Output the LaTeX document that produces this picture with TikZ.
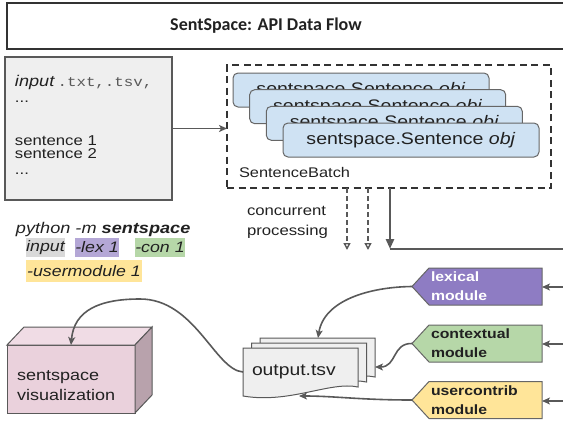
\documentclass[tikz,border=0pt]{standalone}
\usepackage{fontspec}
\setmainfont{Liberation Sans}[FakeStretch=1.17]
\newfontfamily\codefont{Liberation Mono}[FakeStretch=1.17]
\newfontfamily\titlefont{Carlito}
\usetikzlibrary{arrows.meta}
\newcommand\setfs[2]{\fontsize{#1}{#2}\selectfont}
\pgfdeclarelayer{bg}
\pgfsetlayers{bg,main}
\definecolor{cline}{HTML}{595959}
\definecolor{cdark}{HTML}{333333}
\definecolor{cborder}{HTML}{666666}
\definecolor{ctext}{HTML}{212121}
\definecolor{inbg}{HTML}{EFEFEF}
\definecolor{sblue}{HTML}{CFE2F3}
\definecolor{lexc}{HTML}{8E7CC3}
\definecolor{conc}{HTML}{B6D7A8}
\definecolor{usrc}{HTML}{FFE599}
\definecolor{lexhl}{HTML}{B4A7D6}
\definecolor{inhl}{HTML}{D9D9D9}
\definecolor{visf}{HTML}{EAD1DC}
\definecolor{vist}{HTML}{F0DCE5}
\definecolor{viss}{HTML}{B8A2AC}
\begin{document}
\begin{tikzpicture}[x=1pt,y=-1pt,
  every node/.style={inner sep=0pt, outer sep=0pt, text=ctext},
  conn/.style={draw=cline, line width=1.6pt, -{Stealth[length=8pt,width=7pt,inset=2pt]}},
  dasharr/.style={draw=cline, line width=1.4pt, dash pattern=on 5pt off 3pt, -{Triangle[open,length=7pt,width=7pt,fill=white]}},
  thickline/.style={draw=cline, line width=2.6pt},
  sbox/.style={draw=cborder, fill=sblue, rounded corners=5pt, minimum width=256pt, minimum height=34pt, line width=1pt, font=\setfs{16.7}{19}},
  modtext/.style={minimum width=113pt, minimum height=37pt, text width=109pt, inner xsep=2pt, align=left, font=\bfseries\setfs{13.5}{19}},
  modshape/.style={draw=cborder, line width=1pt},
  hl/.style={minimum height=19pt, font=\itshape\setfs{15.2}{18}},
  pics/docpage/.style={code={\draw[draw=cline, fill=inbg, line width=1pt] (0,0) -- (115,0) -- (115,39) .. controls (87,33) and (47,56) .. (0,48) -- cycle;}}
]
\useasboundingbox (0,0) rectangle (563,426);
% title
\node[draw=cdark, line width=2pt, minimum width=566pt, minimum height=46pt, anchor=north west] (titlebox) at (7,3) {};
\node[font=\titlefont\bfseries\setfs{18}{20}] (title) at (266,26) {SentSpace: API Data Flow};
% input box
\node[draw=cline, fill=inbg, line width=1.2pt, minimum width=167pt, minimum height=143pt, anchor=north west] (input) at (5,57) {};
\node[anchor=base west] (in1) at (15,86) {{\itshape\setfs{15.5}{18}input} {\codefont\setfs{13.5}{18}\color{cline}.txt,.tsv,}};
\node[anchor=base west, font=\setfs{14.3}{20}] (in2) at (15,102) {...};
\node[anchor=base west, font=\setfs{14.3}{20}] (in3) at (15,145) {sentence 1};
\node[anchor=base west, font=\setfs{14.3}{20}] (in4) at (15,158.5) {sentence 2};
\node[anchor=base west, font=\setfs{14.3}{20}] (in5) at (15,174) {...};
% sentence batch
\node[draw=cdark, line width=2pt, dash pattern=on 7pt off 4.5pt, minimum width=324pt, minimum height=123pt] (batch) at (389,126.5) {};
\node[sbox] (s1) at (361,90) {sentspace.Sentence \textit{obj}};
\node[sbox] (s2) at (377.7,106.7) {sentspace.Sentence \textit{obj}};
\node[sbox] (s3) at (394.3,123.3) {sentspace.Sentence \textit{obj}};
\node[sbox] (s4) at (411,140) {sentspace.Sentence \textit{obj}};
\node[anchor=west, font=\setfs{14}{16}] (batchlabel) at (239,172) {SentenceBatch};
\draw[conn] (input.east) -- (input.east -| batch.west);
% concurrent
\node[anchor=west, align=left, font=\setfs{14.3}{20}] (conclabel) at (247,222) {concurrent\\processing};
\coordinate (d1) at (347,250);
\coordinate (d2) at (368,250);
\draw[dasharr] (batch.south -| d1) -- (d1);
\draw[dasharr] (batch.south -| d2) -- (d2);
\coordinate (corner) at (390,249);
\coordinate (redge) at (568,249);
\draw[thickline] (corner) -- (redge);
\draw[thickline, -{Triangle[length=10pt,width=8pt]}] (batch.south -| corner) -- (corner);
% python command
\node[anchor=west, font=\itshape\setfs{15.5}{18}] (cmd) at (16,229) {python -m \textbf{sentspace}};
\node[hl, fill=inhl, minimum width=39pt] (hin) at (45.5,247.5) {input};
\node[hl, fill=lexhl, minimum width=44pt] (hlex) at (97,247.5) {-lex 1};
\node[hl, fill=conc, minimum width=50pt] (hcon) at (160,247.5) {-con 1};
\node[hl, fill=usrc, minimum width=116pt, minimum height=22pt] (husr) at (84,271) {-usermodule 1};
% modules
\node[modtext, text=white] (lex) at (485.5,286.5) {lexical\\module};
\node[modtext] (con) at (485.5,343.5) {contextual\\module};
\node[modtext] (usr) at (485.5,400) {usercontrib\\module};
\begin{pgfonlayer}{bg}
\path[modshape, fill=lexc] ([xshift=-17pt]lex.west) -- (lex.north west) -- (lex.north east) -- (lex.south east) -- (lex.south west) -- cycle;
\path[modshape, fill=conc] ([xshift=-17pt]con.west) -- (con.north west) -- (con.north east) -- (con.south east) -- (con.south west) -- cycle;
\path[modshape, fill=usrc] ([xshift=-17pt]usr.west) -- (usr.north west) -- (usr.north east) -- (usr.south east) -- (usr.south west) -- cycle;
\end{pgfonlayer}
\coordinate (lexin) at (568,287);
\coordinate (conin) at (568,344);
\coordinate (usrin) at (568,401);
\draw[conn] (lexin) -- (lexin -| lex.east);
\draw[conn] (conin) -- (conin -| con.east);
\draw[conn] (usrin) -- (usrin -| usr.east);
% output docs
\pic at (260,338) {docpage};
\pic at (251.5,343) {docpage};
\pic at (243,348) {docpage};
\node[anchor=north west, minimum width=115pt, minimum height=48pt] (out) at (243,348) {};
\node[anchor=west, font=\setfs{16.5}{19}] (outlabel) at (252,372) {output.tsv};
\coordinate (outtop) at (318,338);
\coordinate (outright) at (375,367);
\coordinate (outbot) at (299,396);
\draw[conn] ([xshift=-17pt]lex.west) .. controls (370,287) and (324,300) .. (outtop);
\draw[conn] ([xshift=-17pt]con.west) .. controls (392,343) and (397,367) .. (outright);
\draw[conn] ([xshift=-17pt]usr.west) .. controls (360,400) and (335,396) .. (outbot);
% visualization
\node[draw=cline, fill=visf, line width=1pt, minimum width=128pt, minimum height=68pt, anchor=north west] (vis) at (7,345) {};
\draw[draw=cline, fill=vist, line width=1pt] (vis.north west) -- ++(17,-18) -- ++(128,0) -- (vis.north east) -- cycle;
\draw[draw=cline, fill=viss, line width=1pt] (vis.north east) -- ++(17,-18) -- ++(0,68) -- (vis.south east) -- cycle;
\node[anchor=west, align=left, font=\setfs{15.4}{20}] (vislabel) at (17,386) {sentspace\\visualization};
\draw[conn] (out.west) .. controls (215,370) and (195,299) .. (140,299) .. controls (100,299) and (74,310) .. (vis.north);
\end{tikzpicture}
\end{document}
